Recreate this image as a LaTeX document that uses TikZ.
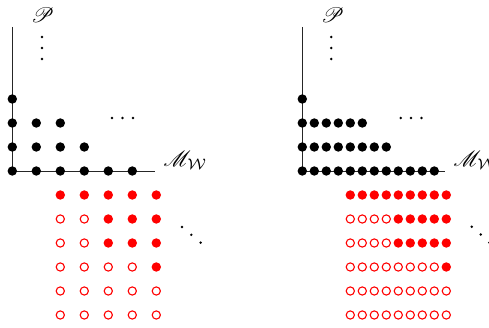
\documentclass[tikz,border=0pt]{standalone}
\usepackage{mathrsfs}
\begin{document}
\begin{tikzpicture}[x=1pt,y=-1pt,
  bdot/.style={circle,fill=black,inner sep=0pt,minimum size=9.4pt},
  rfill/.style={circle,fill=red,inner sep=0pt,minimum size=9.4pt},
  ropen/.style={circle,draw=red,line width=1.1pt,inner sep=0pt,minimum size=8.2pt},
  sdot/.style={circle,fill=black,inner sep=0pt,minimum size=2.7pt},
  axisline/.style={line width=0.9pt,black!85},
  lab/.style={inner sep=0pt,anchor=base west}]
\useasboundingbox (0,0) rectangle (489,328);

% ---------- left panel: step 24 ----------
\coordinate (LO) at (12.3,171);
\coordinate (LT) at (12.3,27);
\coordinate (LR) at (155,171);
\draw[axisline] (LT) -- (LO) -- (LR);
\node[lab] (LP) at (31,22.5) {\scalebox{2.1}{$\mathscr{P}$}};
\node[lab] (LM) at (163.5,166.5) {\scalebox{2.2}{$\mathscr{M}_{\mathcal{W}}$}};

% black lattice points: row, number of points
\foreach \r/\n in {0/6,1/4,2/3,3/1}{
  \foreach \c in {1,...,\n}{
    \node[bdot] (lb-\r-\c) at ({12.3+24*(\c-1)},{171-24*\r}) {};
  }
}
% red lattice: row, first filled column
\foreach \r/\t in {1/0,2/2,3/2,4/4,5/5,6/5}{
  \foreach \c in {0,...,4}{
    \ifnum\c<\t
      \node[ropen] (lr-\r-\c) at ({60.3+24*\c},{171+24*\r}) {};
    \else
      \node[rfill] (lr-\r-\c) at ({60.3+24*\c},{171+24*\r}) {};
    \fi
  }
}
% ellipses
\foreach \k/\y in {1/37,2/48,3/59} \node[sdot] (lv\k) at (42,\y) {};
\foreach \k/\x in {1/112,2/122.5,3/133} \node[sdot] (lh\k) at (\x,118) {};
\foreach \k/\x/\y in {1/182/227,2/191.3/234.8,3/200.6/242.7} \node[sdot] (ld\k) at (\x,\y) {};

% ---------- right panel: step 12 ----------
\coordinate (RO) at (302.3,171);
\coordinate (RT) at (302.3,27);
\coordinate (RR) at (445,171);
\draw[axisline] (RT) -- (RO) -- (RR);
\node[lab] (RP) at (321,22.5) {\scalebox{2.1}{$\mathscr{P}$}};
\node[lab] (RM) at (453.5,166.5) {\scalebox{2.2}{$\mathscr{M}_{\mathcal{W}}$}};

\foreach \r/\n in {0/12,1/8,2/6,3/1}{
  \foreach \c in {1,...,\n}{
    \node[bdot] (rb-\r-\c) at ({302.3+12*(\c-1)},{171-24*\r}) {};
  }
}
\foreach \r/\t in {1/0,2/4,3/4,4/8,5/9,6/9}{
  \foreach \c in {0,...,8}{
    \ifnum\c<\t
      \node[ropen] (rr-\r-\c) at ({350.3+12*\c},{171+24*\r}) {};
    \else
      \node[rfill] (rr-\r-\c) at ({350.3+12*\c},{171+24*\r}) {};
    \fi
  }
}
\foreach \k/\y in {1/37,2/48,3/59} \node[sdot] (rv\k) at (331.3,\y) {};
\foreach \k/\x in {1/400.7,2/411,3/421.5} \node[sdot] (rh\k) at (\x,118) {};
\foreach \k/\x/\y in {1/471.7/226.7,2/480.7/234.5,3/489.3/242.7} \node[sdot] (rd\k) at (\x,\y) {};
\end{tikzpicture}
\end{document}
